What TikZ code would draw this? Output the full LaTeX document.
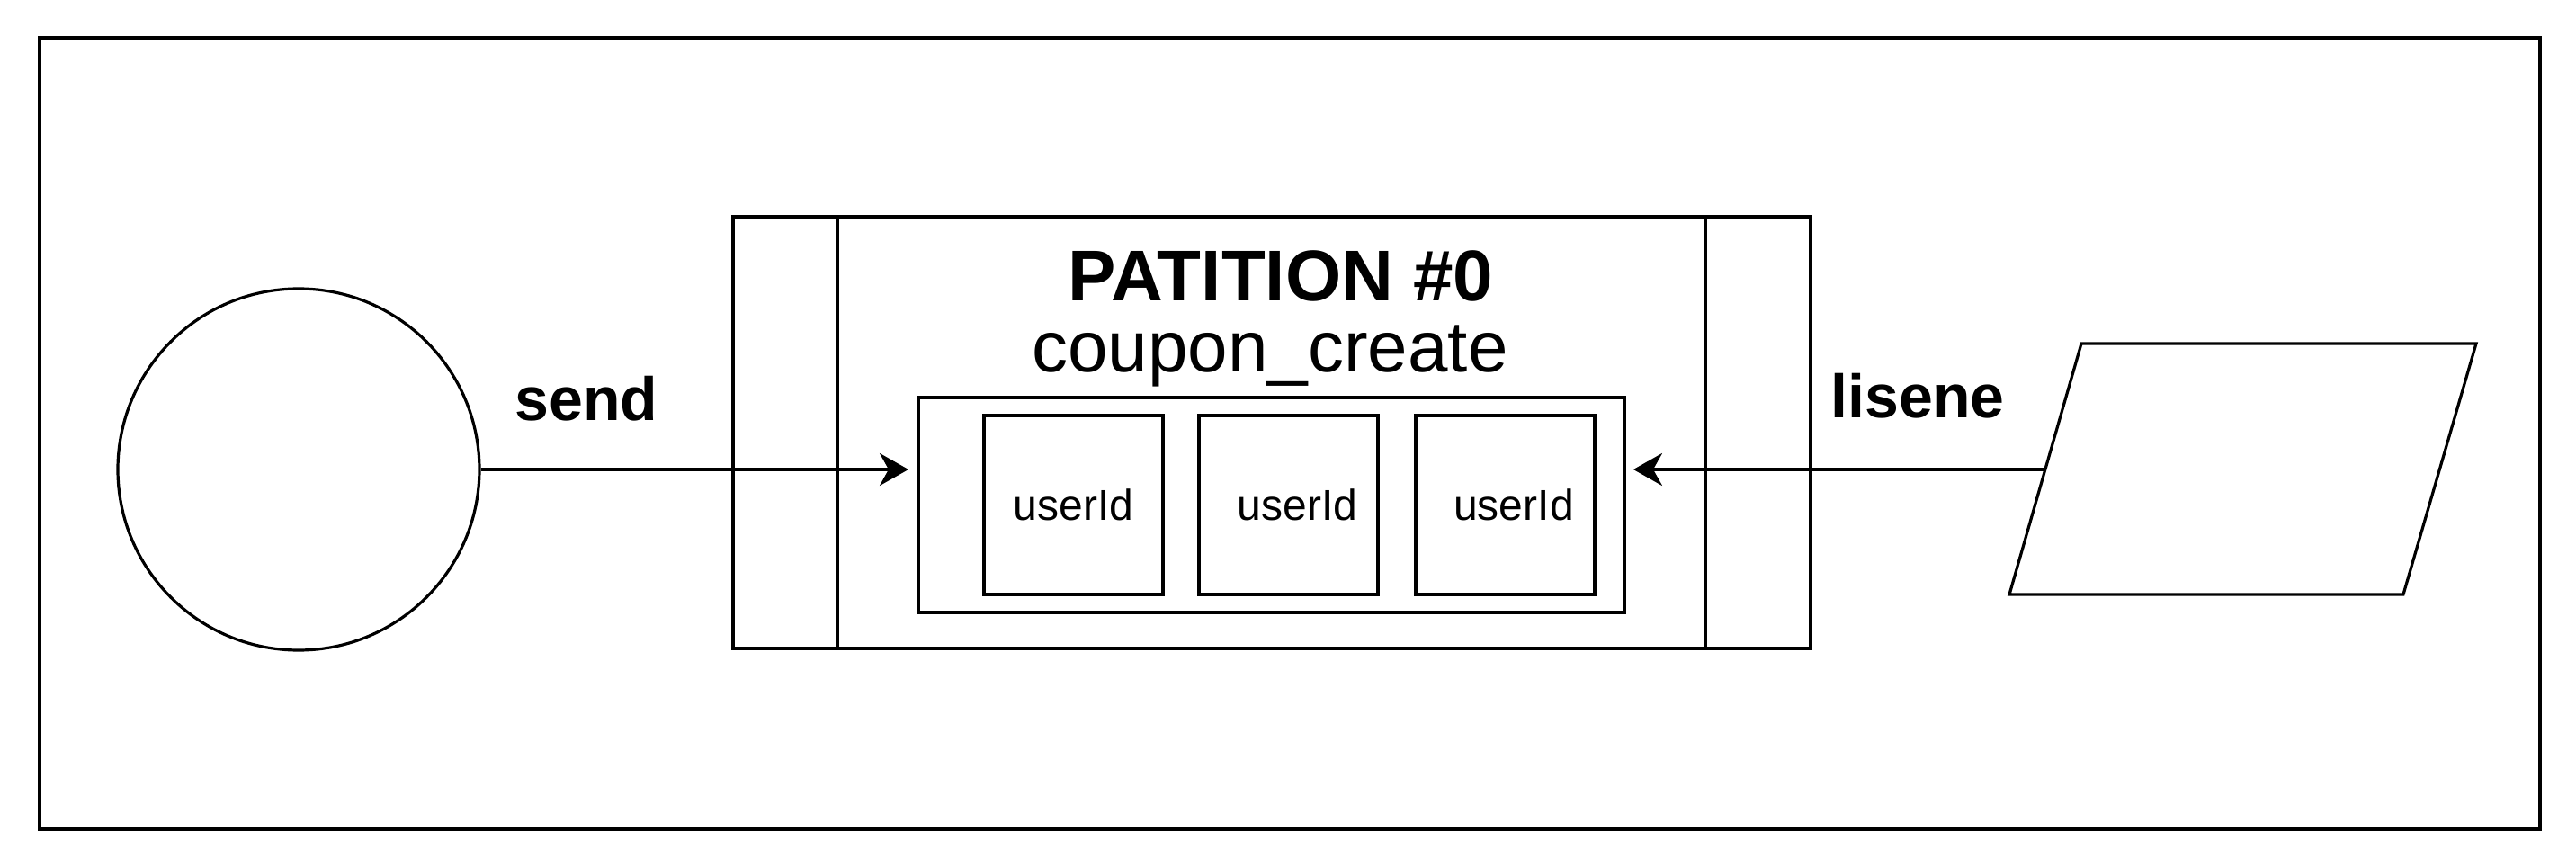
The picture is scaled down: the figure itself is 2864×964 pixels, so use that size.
\documentclass[tikz,border=0pt]{standalone}
\usepackage{fontspec}
\setmainfont{Liberation Sans}
\usetikzlibrary{arrows.meta,positioning,calc}
\tikzset{
  arr/.style={-{Stealth[length=8pt,width=9pt,inset=2.5pt]},line width=0.9pt},
  outline/.style={draw,line width=0.8pt},
  procbox/.style={outline,minimum width=299.5pt,minimum height=120pt,inner sep=0pt},
  holder/.style={draw,line width=1pt,minimum width=196.25pt,minimum height=59.75pt,inner sep=0pt},
  cellbox/.style={draw,line width=1pt,minimum width=49.75pt,minimum height=49.75pt,inner sep=0pt,font=\fontsize{12}{14}\selectfont},
  edgelabel/.style={anchor=base,inner sep=0pt,font=\fontsize{17}{20}\selectfont\bfseries}
}
\begin{document}
\begin{tikzpicture}[x=0.25pt,y=-0.25pt]
  \useasboundingbox (0,0) rectangle (2864,964);
  \node[outline,minimum width=695pt,minimum height=220pt] (frame) at (1434,482) {};
  \node[outline,circle,minimum size=100.5pt] (src) at (332,522) {};
  \node[procbox] (part) at (1414,481) {};
  \draw[line width=0.8pt] ($(part.north west)+(118,0)$) -- ($(part.south west)+(118,0)$);
  \draw[line width=0.8pt] ($(part.north east)+(-118,0)$) -- ($(part.south east)+(-118,0)$);
  \node[anchor=base,inner sep=0pt,font=\fontsize{20}{24}\selectfont\bfseries] (title) at (1424,334) {PATITION \#0};
  \node[anchor=base,inner sep=0pt,font=\fontsize{20}{24}\selectfont] (topic) at (1412,413) {coupon\_create};
  \node[holder] (box) at (1413.5,561.5) {};
  \node[cellbox] (u1) at (1193.5,561.5) {userId};
  \node[cellbox] (u2) at (1432.5,561.5) {\hspace*{5pt}userId};
  \node[cellbox] (u3) at (1673,561.5) {\hspace*{5pt}userId};
  \draw[outline] (2314,382) -- (2753,382) -- (2672,661) -- (2234,661) -- cycle;
  \coordinate (lis) at (2274,522);
  \draw[arr,shorten >=2.25pt] (src.east) -- (src.east -| box.west);
  \draw[arr,shorten >=2pt] (lis) -- (lis -| box.east);
  \node[edgelabel] (send) at (652,467) {send};
  \node[edgelabel] (listen) at (2132,464) {lisene};
\end{tikzpicture}
\end{document}
